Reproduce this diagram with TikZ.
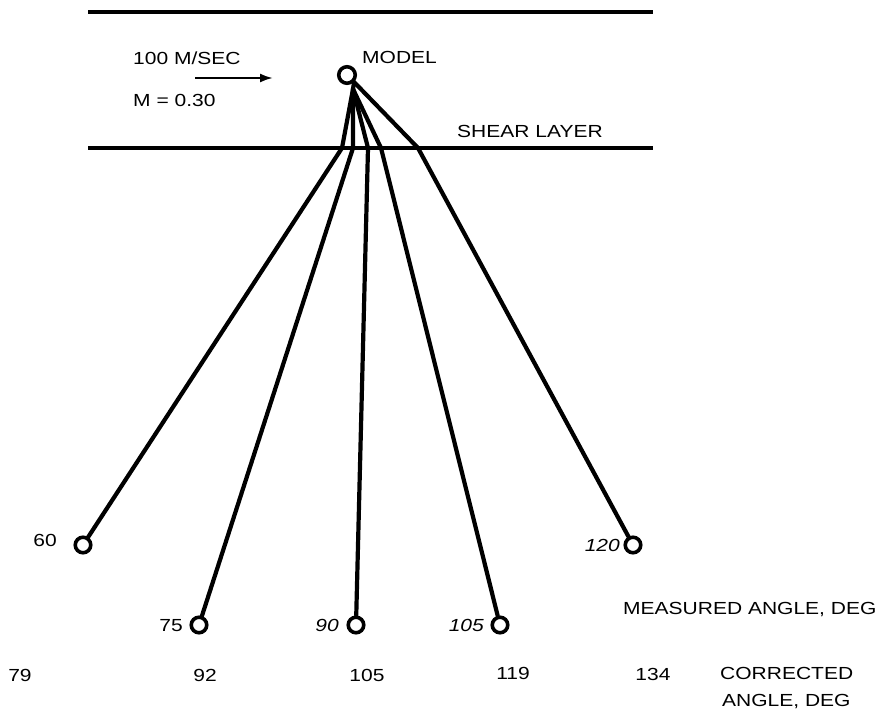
\documentclass[tikz,border=0pt]{standalone}
\usepackage{fontspec}
\setmainfont{Liberation Sans}[FakeStretch=1.2]
\usetikzlibrary{arrows.meta}
\begin{document}
\begin{tikzpicture}[x=1pt,y=-1pt,
  lbl/.style={font=\fontsize{17.5}{20}\selectfont, inner sep=0pt},
  ilbl/.style={font=\fontsize{17.5}{20}\selectfont\itshape, inner sep=0pt},
  mic/.style={circle, draw, line width=3.6pt, minimum size=15.5pt, inner sep=0pt},
  ray/.style={line width=4.2pt, line cap=round, line join=round},
  wall/.style={line width=3.4pt}]
\useasboundingbox (0,0) rectangle (885,714);
% walls
\coordinate (tl) at (88,12); \coordinate (tr) at (653,12);
\coordinate (sl) at (88,148); \coordinate (sr) at (653,148);
\draw[wall] (tl) -- (tr);
\draw[wall] (sl) -- (sr);
% model
\node[mic, minimum size=16.5pt] (model) at (347,75) {};
\coordinate (apex) at (353,89);
% shear crossings
\coordinate (s60) at (342,148);
\coordinate (s75) at (353,148);
\coordinate (s90) at (368,148);
\coordinate (s105) at (381,148);
\coordinate (s120) at (418,148);
% microphones
\node[mic] (m60) at (83,545) {};
\node[mic] (m75) at (199,625) {};
\node[mic] (m90) at (356,625) {};
\node[mic] (m105) at (500,625) {};
\node[mic] (m120) at (633,545) {};
\draw[ray] (model.south east) -- (apex);
\draw[ray] (apex) -- (s60) -- (m60);
\draw[ray] (apex) -- (s75) -- (m75);
\draw[ray] (apex) -- (s90) -- (m90);
\draw[ray] (apex) -- (s105) -- (m105);
\draw[ray] (model.south east) -- (s120) -- (m120);
% top labels
\node[lbl, anchor=base west] (vel) at (133,64.3) {100 M/SEC};
\coordinate (a1) at (195,78); \coordinate (a2) at (273,78);
\draw[line width=2.2pt, -{Latex[length=13pt,width=9pt]}] (a1) -- (a2);
\node[lbl, anchor=base west] (mach) at (133,106.3) {M = 0.30};
\node[lbl, anchor=base west] (mlabel) at (362,63.3) {MODEL};
\node[lbl, anchor=base west] (shear) at (457,137.3) {SHEAR LAYER};
% measured labels
\node[lbl, anchor=base east] (l60) at (57,546.3) {60};
\node[lbl, anchor=base east] (l75) at (183,631.3) {75};
\node[ilbl, anchor=base east] (l90) at (339,631.3) {90};
\node[ilbl, anchor=base east] (l105) at (484,631.3) {105};
\node[ilbl, anchor=base east] (l120) at (620,551.3) {120};
\node[lbl, anchor=base west] (meas) at (623,614.3) {MEASURED ANGLE, DEG};
% corrected labels
\node[lbl, anchor=base] (c79) at (20,681.3) {79};
\node[lbl, anchor=base] (c92) at (205,681.3) {92};
\node[lbl, anchor=base] (c105) at (367,681.3) {105};
\node[lbl, anchor=base] (c119) at (513,679.3) {119};
\node[lbl, anchor=base] (c134) at (653,680.3) {134};
\node[lbl, anchor=base west] (corr1) at (720,679.3) {CORRECTED};
\node[lbl, anchor=base west] (corr2) at (722,706.3) {ANGLE, DEG};
\end{tikzpicture}
\end{document}
